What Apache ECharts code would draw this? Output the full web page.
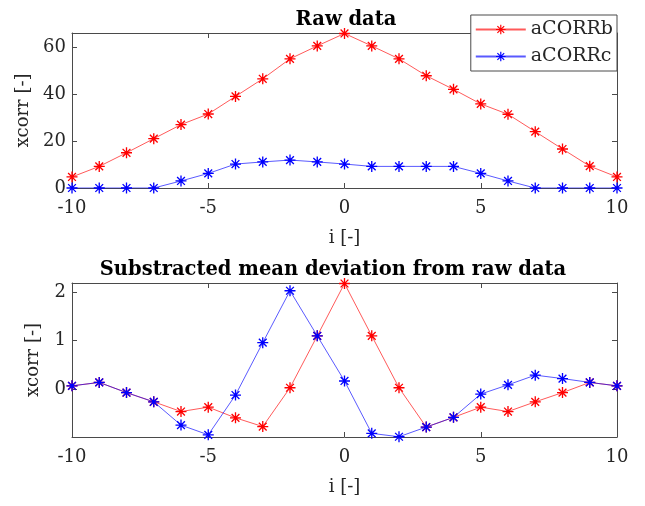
<!DOCTYPE html>
<html>
<head>
<meta charset="utf-8">
<script src="https://cdn.jsdelivr.net/npm/echarts@6/dist/echarts.min.js"></script>
<style>html,body{margin:0;padding:0;background:#fff;}#c{width:645px;height:506px;}</style>
</head>
<body>
<div id="c"></div>
<script>
// ---- data ----
const lagI = [-10,-9,-8,-7,-6,-5,-4,-3,-2,-1,0,1,2,3,4,5,6,7,8,9,10];
const rawB = [4.7, 9.2, 15.0, 21.0, 27.0, 31.5, 39.0, 46.5, 55.0, 60.5, 65.8, 60.5, 55.0, 47.8, 42.0, 35.8, 31.4, 24.0, 16.6, 9.3, 4.7];
const rawC = [0, 0, 0, 0, 3.0, 6.2, 10.2, 11.1, 11.9, 11.1, 10.2, 9.2, 9.2, 9.2, 9.2, 6.2, 3.0, 0, 0, 0, 0];
const devB = [0.07, 0.14, -0.07, -0.26, -0.46, -0.37, -0.59, -0.77, 0.03, 1.10, 2.18, 1.10, 0.03, -0.78, -0.58, -0.37, -0.46, -0.26, -0.07, 0.14, 0.07];
const devC = [0.07, 0.14, -0.07, -0.26, -0.74, -0.94, -0.12, 0.96, 2.03, 1.10, 0.17, -0.91, -0.98, -0.78, -0.58, -0.10, 0.09, 0.29, 0.22, 0.14, 0.07];
const xTicks = [-10, -5, 0, 5, 10];
const yTicksTop = [0, 20, 40, 60];
const yTicksBottom = [0, 1, 2];
const seriesNames = ['aCORRb', 'aCORRc'];
const titles = ['Raw data', 'Substracted mean deviation from raw data'];

// ---- style ----
const FONT = 'DejaVu Serif';
const AX = '#4a4a4a';
const TXT = '#262626';
const RED = '#ff0000', BLUE = '#0000ff';
const STAR = 'path://M-10,-1.2L10,-1.2L10,1.2L-10,1.2Z M-1.2,-10L1.2,-10L1.2,10L-1.2,10Z M-6.22,-7.92L7.92,6.22L6.22,7.92L-7.92,-6.22Z M-6.22,7.92L-7.92,6.22L6.22,-7.92L7.92,-6.22Z';

const pairs = (ys) => lagI.map((x, k) => [x, ys[k]]);

function xAx(grid, pos, labels) {
  return {
    type: 'value', gridIndex: grid, position: pos, min: -10, max: 10, interval: 5,
    name: labels ? 'i [-]' : '', nameLocation: 'middle', nameGap: 41,
    nameTextStyle: {fontFamily: FONT, fontSize: 18, color: TXT},
    axisLine: {show: true, onZero: false, lineStyle: {color: AX, width: 1}},
    axisTick: {show: true, inside: true, length: 5, lineStyle: {color: AX}, customValues: xTicks},
    axisLabel: {show: labels, margin: 11, fontFamily: FONT, fontSize: 18, color: TXT, customValues: xTicks},
    splitLine: {show: false}
  };
}
function yAx(grid, pos, labels, min, max, ticks, gap) {
  return {
    type: 'value', gridIndex: grid, position: pos, min: min, max: max,
    name: labels ? 'xcorr [-]' : '', nameLocation: 'middle', nameGap: gap,
    nameTextStyle: {fontFamily: FONT, fontSize: 18, color: TXT},
    axisLine: {show: true, onZero: false, lineStyle: {color: AX, width: 1}},
    axisTick: {show: true, inside: true, length: 5, lineStyle: {color: AX}, customValues: ticks},
    axisLabel: {show: labels, margin: 6, fontFamily: FONT, fontSize: 18, color: TXT, customValues: ticks},
    splitLine: {show: false}
  };
}
function ser(name, color, data, xi, yi) {
  return {
    type: 'line', name: name, data: data, xAxisIndex: xi, yAxisIndex: yi,
    symbol: STAR, symbolSize: 11, showSymbol: true,
    itemStyle: {color: color},
    lineStyle: {color: color, width: 1, opacity: 0.65},
    emphasis: {disabled: true}
  };
}

const chart = echarts.init(document.getElementById('c'), null, {renderer: 'canvas'});
chart.setOption({
  animation: false,
  backgroundColor: '#fff',
  title: [
    {text: titles[0], left: 341, top: 5, textAlign: 'center',
     textStyle: {fontFamily: FONT, fontSize: 19.5, fontWeight: 'bold', color: '#000'}},
    {text: titles[1], left: 328, top: 255, textAlign: 'center',
     textStyle: {fontFamily: FONT, fontSize: 19.5, fontWeight: 'bold', color: '#000'}}
  ],
  legend: {
    data: seriesNames, orient: 'vertical', right: 28, top: 15,
    padding: [5, 4, 5, 4], itemGap: 8, itemWidth: 50, itemHeight: 12,
    borderColor: AX, borderWidth: 1, backgroundColor: '#fff',
    textStyle: {fontFamily: FONT, fontSize: 19, color: TXT}
  },
  grid: [
    {left: 72, right: 28, top: 33, height: 155},
    {left: 72, right: 28, top: 283, height: 154}
  ],
  xAxis: [xAx(0, 'bottom', true), xAx(0, 'top', false), xAx(1, 'bottom', true), xAx(1, 'top', false)],
  yAxis: [
    yAx(0, 'left', true, 0, 66, yTicksTop, 35), yAx(0, 'right', false, 0, 66, yTicksTop, 0),
    yAx(1, 'left', true, -0.985, 2.19, yTicksBottom, 30), yAx(1, 'right', false, -0.985, 2.19, yTicksBottom, 0)
  ],
  series: [
    ser(seriesNames[0], RED, pairs(rawB), 0, 0),
    ser(seriesNames[1], BLUE, pairs(rawC), 0, 0),
    ser(seriesNames[0], RED, pairs(devB), 2, 2),
    ser(seriesNames[1], BLUE, pairs(devC), 2, 2)
  ]
});
</script>
</body>
</html>
